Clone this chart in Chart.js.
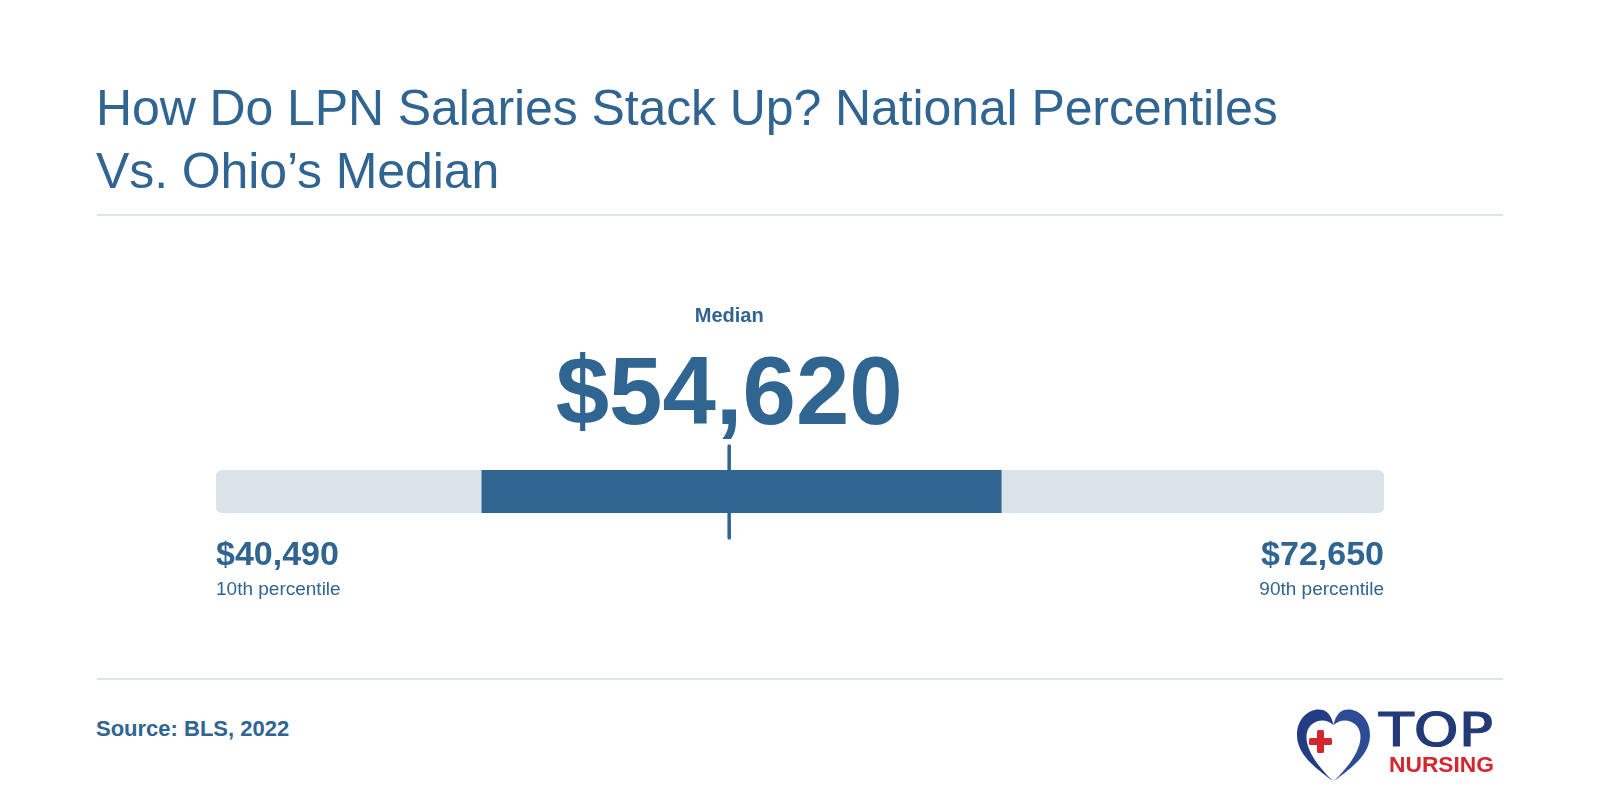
<!DOCTYPE html>
<html>
<head>
<meta charset="utf-8">
<script src="https://cdn.jsdelivr.net/npm/chart.js@4/dist/chart.umd.min.js"></script>
<style>
  html, body { margin: 0; padding: 0; background: #fff; }
  body { width: 1600px; height: 800px; position: relative; overflow: hidden;
         font-family: "Liberation Sans", Arial, Helvetica, sans-serif; color: #306491; }
  #title { position: absolute; left: 96px; top: 77px; font-size: 50px; line-height: 63px;
           font-weight: normal; letter-spacing: -0.1px; white-space: nowrap; }
  .rule { position: absolute; left: 97px; width: 1406px; height: 2px; background: #dde4ec; }
  #source { position: absolute; left: 96px; top: 716px; font-size: 22px; line-height: 26px; font-weight: bold; }
  #logo { position: absolute; left: 1290px; top: 697px; }
  #wrap { position: absolute; left: 0; top: 0; width: 1600px; height: 800px; }
</style>
</head>
<body>
<div id="title">How Do LPN Salaries Stack Up? National Percentiles<br>Vs. Ohio’s Median</div>
<div class="rule" style="top:214px"></div>
<div class="rule" style="top:678px"></div>
<div id="source">Source: BLS, 2022</div>
<div id="wrap"><canvas id="salaryChart"></canvas></div>
<svg id="logo" width="215" height="90" viewBox="0 0 215 90">
  <path d="M43 84 C 24 70, 7 57, 7 38 C 7 20, 21 10, 33 13 C 39 15, 42 21, 43.5 28 C 38 23, 29 21, 21 28 C 13 36, 13 55, 43 84 Z" fill="#233d85"/>
  <path d="M44 84 C 63 70, 80 57, 80 38 C 80 20, 66 10, 54 13 C 48 15, 45 21, 43.5 28 C 49 23, 58 21, 66 28 C 74 36, 74 55, 44 84 Z" fill="#2c4c96"/>
  <rect x="27" y="33" width="7" height="23" rx="1.5" fill="#d3262d"/>
  <rect x="19" y="41" width="23" height="7" rx="1.5" fill="#d3262d"/>
  <text x="89" y="49" font-family="DejaVu Sans, sans-serif" font-size="47" fill="#233a78" stroke="#233a78" stroke-width="1.2" textLength="114" lengthAdjust="spacingAndGlyphs">TOP</text>
  <text x="99" y="75" font-family="Liberation Sans, Arial, sans-serif" font-size="22" font-weight="bold" fill="#d3262d" textLength="105" lengthAdjust="spacingAndGlyphs">NURSING</text>
</svg>
<script>
// national LPN salary percentiles (BLS 2022) vs Ohio median
const percentileNames = ["10th percentile", "25th percentile", "Median", "75th percentile", "90th percentile"];
const salaryValues = [40490, 47810, 54620, 62110, 72650];
const rowLabels = ["LPN"];
const medianLabel = "Median";

const blue = "#306491";
const paleBlue = "#dae2ea";

function money(v) {
  return "$" + v.toLocaleString("en-US");
}

const labelsPlugin = {
  id: "salaryLabels",
  afterDatasetsDraw(chart) {
    const ctx = chart.ctx;
    const x = chart.scales.x;
    const area = chart.chartArea;
    const mx = x.getPixelForValue(salaryValues[2]);
    const fam = '"Liberation Sans", Arial, Helvetica, sans-serif';

    ctx.save();
    // median tick
    ctx.strokeStyle = blue;
    ctx.lineWidth = 3.5;
    ctx.lineCap = "round";
    ctx.beginPath();
    ctx.moveTo(mx, area.top - 24);
    ctx.lineTo(mx, area.bottom + 25);
    ctx.stroke();

    ctx.fillStyle = blue;
    ctx.textBaseline = "alphabetic";
    ctx.textAlign = "center";
    ctx.font = "bold 20px " + fam;
    ctx.fillText(medianLabel, mx, 322);
    ctx.font = "bold 96px " + fam;
    ctx.fillText(money(salaryValues[2]), mx, 424);

    // low / high ends
    const lo = x.getPixelForValue(salaryValues[0]);
    const hi = x.getPixelForValue(salaryValues[4]);
    ctx.font = "bold 34px " + fam;
    ctx.textAlign = "left";
    ctx.fillText(money(salaryValues[0]), lo, 565);
    ctx.textAlign = "right";
    ctx.fillText(money(salaryValues[4]), hi, 565);
    ctx.font = "19px " + fam;
    ctx.textAlign = "left";
    ctx.fillText(percentileNames[0], lo, 595);
    ctx.textAlign = "right";
    ctx.fillText(percentileNames[4], hi, 595);
    ctx.restore();
  }
};

new Chart(document.getElementById("salaryChart"), {
  type: "bar",
  data: {
    labels: rowLabels,
    datasets: [
      {
        label: "25th-75th percentile",
        data: [[salaryValues[1], salaryValues[3]]],
        backgroundColor: blue,
        borderSkipped: false,
        borderRadius: 0,
        grouped: false,
        order: 1,
        barThickness: 43
      },
      {
        label: "10th-90th percentile",
        data: [[salaryValues[0], salaryValues[4]]],
        backgroundColor: paleBlue,
        borderSkipped: false,
        borderRadius: 7,
        grouped: false,
        order: 2,
        barThickness: 43
      }
    ]
  },
  options: {
    indexAxis: "y",
    responsive: true,
    maintainAspectRatio: false,
    animation: false,
    layout: { padding: { left: 216, right: 216, top: 470, bottom: 287 } },
    scales: {
      x: { display: false, min: salaryValues[0], max: salaryValues[4] },
      y: { display: false }
    },
    plugins: {
      legend: { display: false },
      tooltip: { enabled: false }
    }
  },
  plugins: [labelsPlugin]
});
</script>
</body>
</html>
